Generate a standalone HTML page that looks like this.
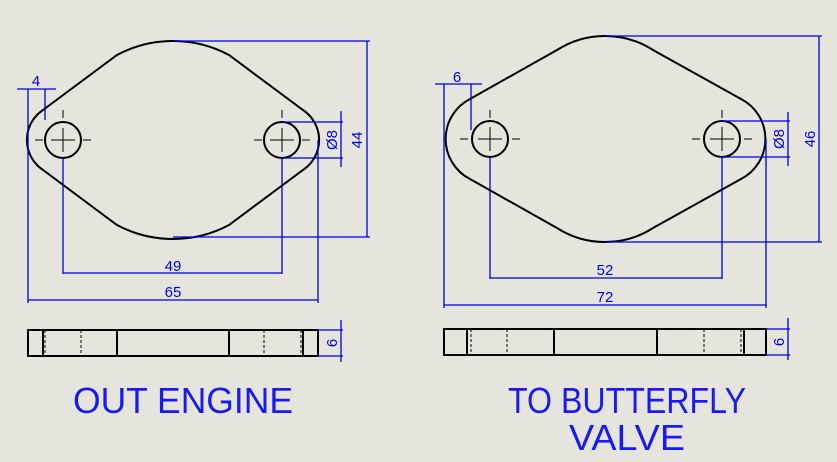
<!DOCTYPE html>
<html><head><style>
html,body{margin:0;padding:0;background:#e5e5dd;}
svg{display:block;}
</style></head><body>
<svg width="837" height="462" viewBox="0 0 837 462" xmlns="http://www.w3.org/2000/svg">
<rect width="837" height="462" fill="#e5e5dd"/>
<g fill="none" stroke="#000" stroke-width="2">
<path d="M43,110 L117,55 A119,119 0 0 1 229,55 L303,110 A36,36 0 0 1 303,170 L229,225 A119,119 0 0 1 117,225 L43,170 A36,36 0 0 1 43,110 Z"/>
<circle cx="63" cy="140" r="18"/><circle cx="282" cy="140" r="18"/>
<path d="M470,99 L557,50 A89,89 0 0 1 653,50 L741,99 A45,45 0 0 1 741,179 L653,228 A89,89 0 0 1 557,228 L470,179 A45,45 0 0 1 470,99 Z"/>
<circle cx="490" cy="139" r="18"/><circle cx="722" cy="139" r="18"/>
<rect x="28" y="330" width="290" height="26"/>
<path d="M43,330V356M117,330V356M229,330V356M303,330V356"/>
<rect x="444" y="329" width="322" height="26"/>
<path d="M467,329V355M554,329V355M657,329V355M744,329V355"/>
</g>
<g stroke="#000" stroke-width="1" fill="none">
<path d="M35,140h8M51,140h24M83,140h8M63,110v8M63,128v24M63,162v8"/>
<path d="M254,140h8M270,140h24M302,140h8M282,110v8M282,128v24M282,162v8"/>
<path d="M460,139h8M478,139h24M512,139h8M490,110v8M490,127v24M490,161v8"/>
<path d="M692,139h8M710,139h24M744,139h8M722,110v8M722,127v24M722,161v8"/>
<g stroke-dasharray="3,2"><path d="M45,330V356M81,330V356M264,330V356M301,330V356M471,329V355M507,329V355M704,329V355M741,329V355"/></g>
</g>
<g stroke="#0000e0" stroke-width="1.3" fill="none">
<path d="M173,41H370M173,237H370M367,41V237"/>
<path d="M282,122H343M282,158H343M341,111V167"/>
<path d="M63,158V274M282,158V274M63,273H282"/>
<path d="M28,140V303M318,140V303M28,300H318"/>
<path d="M17,89H56M28,89V140M45,89V120"/>
<path d="M318,330H343M318,356H343M341,320V362"/>
<path d="M605,36H822M605,242H822M819,36V242"/>
<path d="M722,121H790M722,157H790M788,112V166"/>
<path d="M490,157V279M722,157V279M490,278H722"/>
<path d="M444,139V308M766,139V308M444,305H766"/>
<path d="M435,84H482M444,84V139M471,84V130"/>
<path d="M766,329H790M766,355H790M788,318V360"/>
</g>
<g fill="#0000e0" font-family="Liberation Sans, sans-serif" font-size="15">
<text x="173" y="271" text-anchor="middle">49</text>
<text x="173" y="297" text-anchor="middle">65</text>
<text x="36" y="86" text-anchor="middle">4</text>
<text transform="translate(362,140) rotate(-90)" text-anchor="middle">44</text>
<text transform="translate(337,140) rotate(-90)" text-anchor="middle">Ø8</text>
<text transform="translate(337,343) rotate(-90)" text-anchor="middle">6</text>
<text x="605" y="275" text-anchor="middle">52</text>
<text x="605" y="302" text-anchor="middle">72</text>
<text x="457" y="82" text-anchor="middle">6</text>
<text transform="translate(815,139) rotate(-90)" text-anchor="middle">46</text>
<text transform="translate(784,139) rotate(-90)" text-anchor="middle">Ø8</text>
<text transform="translate(784,342) rotate(-90)" text-anchor="middle">6</text>
</g>
<g fill="#1a1aee" font-family="Liberation Sans, sans-serif" font-size="36" text-anchor="middle">
<text x="183" y="413" textLength="220" lengthAdjust="spacingAndGlyphs">OUT ENGINE</text>
<text x="627" y="413" textLength="238" lengthAdjust="spacingAndGlyphs">TO BUTTERFLY</text>
<text x="627" y="450" textLength="116" lengthAdjust="spacingAndGlyphs">VALVE</text>
</g>
</svg>
</body></html>
